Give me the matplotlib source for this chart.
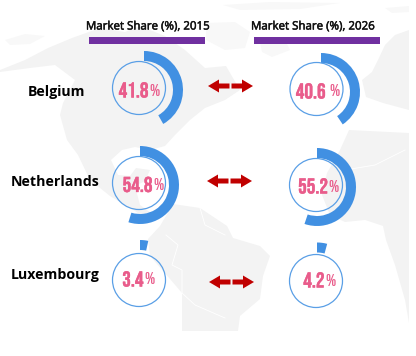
import matplotlib
matplotlib.use("Agg")
import matplotlib.pyplot as plt
import matplotlib.patheffects as pe
from matplotlib.patches import Circle, Polygon, Rectangle, Wedge

countries = ["Belgium", "Netherlands", "Luxembourg"]
years = ["2015", "2026"]
share_2015 = [41.8, 54.8, 3.4]
share_2026 = [40.6, 55.2, 4.2]

LAND = "#f3f3f3"
FAINT_LAND = "#f8f8f8"
RING = "#4190e2"
PINK = "#e95c8b"
RED = "#c00000"
PURPLE = "#7030a0"

NUM_FONT = ["Bebas Neue", "Liberation Sans Narrow", "DejaVu Sans"]
LABEL_FONT = ["Open Sans", "DejaVu Sans"]

# rough world map behind everything, in pixels
north_america = [(0, 70), (25, 60), (48, 48), (72, 38), (100, 28), (125, 32), (140, 26), (165, 36),
                 (185, 50), (205, 68), (226, 66), (240, 90), (225, 100), (205, 108), (190, 120),
                 (175, 135), (165, 146), (150, 150), (135, 147), (122, 150), (111, 160), (118, 175),
                 (130, 176), (136, 168), (150, 170), (145, 181), (135, 186), (140, 205), (155, 216),
                 (150, 222), (135, 211), (110, 196), (90, 180), (78, 155), (67, 140), (60, 115),
                 (63, 103), (75, 80), (55, 65), (30, 68), (0, 72)]
arctic = [(5, 40), (25, 34), (45, 36), (30, 44), (10, 45)]
greenland = [(206, 23), (235, 22), (250, 32), (245, 48), (225, 50), (206, 40)]
iceland = [(260, 42), (285, 40), (290, 50), (272, 57), (262, 52)]
streaks = [(223, 5), (270, 2), (340, 3), (300, 9), (240, 10)]
europe = [(409, 30), (395, 35), (385, 45), (378, 60), (372, 72), (362, 80), (366, 97), (383, 103),
          (409, 110)]
top_right = [(385, 8), (409, 6), (409, 12), (392, 13)]
africa = [(349, 130), (340, 150), (327, 173), (322, 195), (330, 215), (345, 222), (365, 220),
          (383, 226), (386, 240), (395, 265), (405, 300), (409, 323), (409, 133)]
south_america = [(173, 204), (200, 208), (227, 226), (233, 238), (260, 246), (270, 256), (263, 276),
                 (260, 299), (240, 316), (238, 331), (182, 331), (182, 293), (170, 279), (150, 256),
                 (148, 239), (160, 226)]
land = [north_america, europe, africa, south_america]
faint_land = [arctic, greenland, iceland, streaks, top_right]

borders = [[(166, 235), (178, 245), (172, 265), (182, 270), (182, 293)],
           [(182, 293), (195, 305), (225, 318)],
           [(200, 208), (205, 225), (225, 235)],
           [(345, 170), (375, 165), (405, 150)]]

# layout per country and per year, in pixels
ring_x = [[144, 140, 140], [321, 317, 317]]
ring_y = [[90, 185, 279], [92, 187, 281.5]]
circle_x = [[139, 139, 139], [316.5, 316, 316]]
circle_y = [[88, 183, 280], [89, 185, 281]]
split_x = [[148.5, 152.5, 143.5], [325.5, 328, 324.5]]
pct_gap = [[0.5, 0.5, 0.5], [3.5, 0.5, 0.5]]
text_y = [[89.5, 184, 278.5], [90.5, 185.5, 279.5]]

title_x = [148, 313]
bar_x = [(89, 205), (254, 380)]
label_x = [56.5, 55.5, 55]
label_y = [92, 181.5, 275.5]
arrow_x = [(208, 253), (207, 252), (209, 254)]
arrow_y = [86, 181, 282]

fig = plt.figure(figsize=(4.16, 3.56), dpi=100)
ax = fig.add_axes([0, 0, 1, 1])
ax.set_xlim(0, 416)
ax.set_ylim(356, 0)
ax.axis("off")

for shape in land:
    ax.add_patch(Polygon(shape, closed=True, facecolor=LAND, edgecolor="none", zorder=1))
for shape in faint_land:
    ax.add_patch(Polygon(shape, closed=True, facecolor=FAINT_LAND, edgecolor="none", zorder=1))
for line in borders:
    ax.plot([p[0] for p in line], [p[1] for p in line], color="white", lw=0.6, zorder=2)

for j, values in enumerate([share_2015, share_2026]):
    ax.text(title_x[j], 26, "Market Share (%), " + years[j], family=LABEL_FONT, fontsize=8.3,
            color="#111111", ha="center", va="center", zorder=5,
            path_effects=[pe.withStroke(linewidth=0.35, foreground="#111111")])
    ax.add_patch(Rectangle((bar_x[j][0], 37), bar_x[j][1] - bar_x[j][0], 7, facecolor=PURPLE,
                           edgecolor="none", zorder=3))
    for i, value in enumerate(values):
        # y axis is flipped so -90 is the top and angles run clockwise
        ax.add_patch(Wedge((ring_x[j][i], ring_y[j][i]), 39, -90, -90 + 3.6 * value, width=10,
                           facecolor=RING, edgecolor="none", zorder=3))
        ax.add_patch(Circle((circle_x[j][i], circle_y[j][i]), 26.5, facecolor="none",
                            edgecolor="#5a9fe6", lw=0.9, zorder=4))
        ax.text(split_x[j][i], text_y[j][i], str(value), family=NUM_FONT, fontsize=15.5, color=PINK,
                ha="right", va="center_baseline", zorder=5,
                path_effects=[pe.withStroke(linewidth=0.25, foreground=PINK)])
        ax.text(split_x[j][i] + pct_gap[j][i], text_y[j][i], "%", family=NUM_FONT, fontsize=12.5,
                color=PINK, ha="left", va="center_baseline", zorder=5)

for i, name in enumerate(countries):
    ax.text(label_x[i], label_y[i], name, family=LABEL_FONT, fontsize=10.2, fontweight="bold",
            color="black", ha="center", va="center", zorder=5)
    mid = (arrow_x[i][0] + arrow_x[i][1]) / 2
    ax.arrow(mid - 1, arrow_y[i], arrow_x[i][0] - mid + 1, 0, width=5, head_width=13, head_length=11,
             length_includes_head=True, facecolor=RED, edgecolor="none", zorder=5)
    ax.arrow(mid + 1, arrow_y[i], arrow_x[i][1] - mid - 1, 0, width=5, head_width=13, head_length=11,
             length_includes_head=True, facecolor=RED, edgecolor="none", zorder=5)

fig.savefig("out.png", dpi=100)
